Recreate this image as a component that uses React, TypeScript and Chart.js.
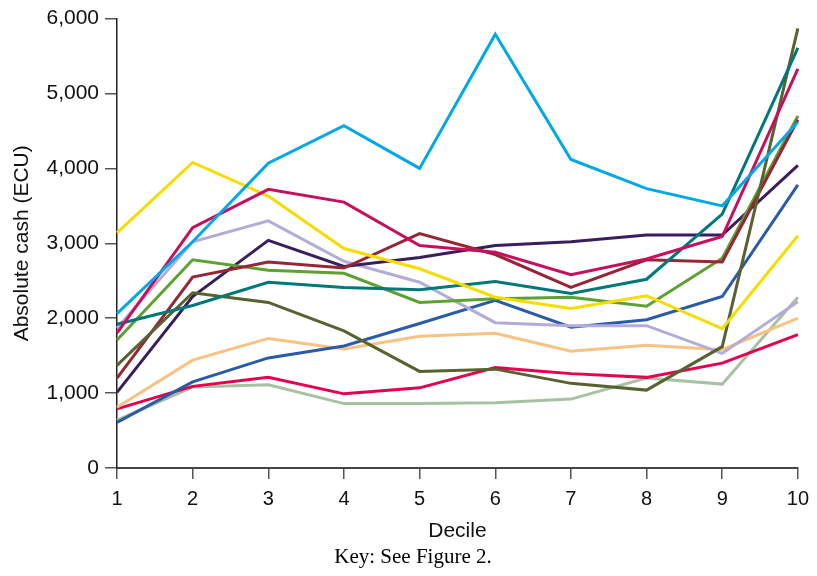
import React, { useEffect, useRef } from "react";
import { Chart, registerables } from "chart.js";

Chart.register(...registerables);

const deciles = ["1", "2", "3", "4", "5", "6", "7", "8", "9", "10"];
const yTickValues = [0, 1000, 2000, 3000, 4000, 5000, 6000];

const cyan = [2060, 3020, 4070, 4570, 4000, 5790, 4120, 3730, 3500, 4620];
const yellow = [3140, 4080, 3630, 2930, 2660, 2280, 2130, 2300, 1860, 3100];
const magenta = [1800, 3210, 3720, 3550, 2970, 2880, 2580, 2790, 3090, 5330];
const lavender = [1870, 3020, 3300, 2760, 2480, 1940, 1900, 1900, 1530, 2220];
const purple = [1010, 2290, 3040, 2690, 2810, 2970, 3020, 3110, 3110, 4040];
const darkRed = [1200, 2550, 2750, 2670, 3130, 2850, 2410, 2780, 2750, 4650];
const green = [1710, 2780, 2640, 2600, 2210, 2260, 2280, 2160, 2800, 4700];
const teal = [1920, 2170, 2480, 2410, 2380, 2490, 2330, 2520, 3390, 5610];
const olive = [1370, 2340, 2210, 1830, 1290, 1320, 1130, 1040, 1620, 5870];
const orange = [810, 1440, 1730, 1590, 1760, 1800, 1560, 1640, 1580, 2000];
const blue = [610, 1150, 1470, 1630, 1930, 2240, 1880, 1980, 2290, 3780];
const redPink = [790, 1090, 1210, 990, 1070, 1340, 1260, 1210, 1400, 1780];
const sage = [640, 1080, 1110, 860, 860, 870, 920, 1200, 1120, 2280];

const seriesList = [
  { name: "cyan", data: cyan, color: "#00A9E6" },
  { name: "magenta", data: magenta, color: "#C6105E" },
  { name: "yellow", data: yellow, color: "#F6DC00" },
  { name: "teal", data: teal, color: "#00787A" },
  { name: "olive", data: olive, color: "#586230" },
  { name: "darkRed", data: darkRed, color: "#962636" },
  { name: "green", data: green, color: "#5DA132" },
  { name: "purple", data: purple, color: "#3A1E5C" },
  { name: "lavender", data: lavender, color: "#B4ACD8" },
  { name: "blue", data: blue, color: "#2B5BA8" },
  { name: "orange", data: orange, color: "#F8C283" },
  { name: "redPink", data: redPink, color: "#E4004F" },
  { name: "sage", data: sage, color: "#A7C2A3" },
];

export default function App() {
  const canvasRef = useRef<HTMLCanvasElement | null>(null);

  useEffect(() => {
    const canvas = canvasRef.current;
    if (!canvas) return;
    const sans = "'Liberation Sans', Arial, sans-serif";
    const chart = new Chart(canvas, {
      type: "line",
      data: {
        labels: deciles,
        datasets: seriesList.map((s) => ({
          label: s.name,
          data: s.data,
          borderColor: s.color,
          backgroundColor: s.color,
          borderWidth: 3,
          pointRadius: 0,
          tension: 0,
          fill: false,
        })),
      },
      options: {
        animation: false,
        responsive: false,
        maintainAspectRatio: false,
        layout: { padding: { left: 24, right: 15, top: 16, bottom: 0 } },
        plugins: {
          legend: { display: false },
          tooltip: { enabled: false },
          subtitle: {
            display: true,
            position: "bottom",
            text: "Key: See Figure 2.",
            color: "#000",
            font: { family: "'Liberation Serif', 'Times New Roman', serif", size: 21, weight: "normal" },
            padding: { top: 0, bottom: 6 },
          },
        },
        scales: {
          x: {
            type: "category",
            offset: false,
            grid: {
              drawOnChartArea: false,
              drawTicks: true,
              tickLength: 11,
              color: "#555",
              lineWidth: 1.5,
            },
            border: { display: true, color: "#444", width: 2 },
            ticks: {
              color: "#111",
              font: { family: sans, size: 20 },
              padding: 8,
              maxRotation: 0,
              autoSkip: false,
            },
            title: {
              display: true,
              text: "Decile",
              color: "#111",
              font: { family: sans, size: 21 },
              padding: { top: 0, bottom: 1 },
            },
            afterFit: (scale: any) => {
              scale.height = 76.8;
            },
          },
          y: {
            type: "linear",
            min: 0,
            max: 6000,
            afterBuildTicks: (scale: any) => {
              scale.ticks = yTickValues.map((v) => ({ value: v }));
            },
            grid: {
              drawOnChartArea: false,
              drawTicks: true,
              tickLength: 12,
              color: "#555",
              lineWidth: 1.5,
            },
            border: { display: true, color: "#222", width: 1.5 },
            ticks: {
              color: "#111",
              font: { family: sans, size: 21 },
              padding: 6,
              callback: (v: any) => Number(v).toLocaleString("en-US"),
            },
            title: {
              display: true,
              text: "Absolute cash (ECU)",
              color: "#111",
              font: { family: sans, size: 21 },
              padding: { top: -14.6, bottom: 0 },
            },
            afterFit: (scale: any) => {
              scale.width = 93;
            },
          },
        },
      },
    });
    return () => {
      chart.destroy();
    };
  }, []);

  return (
    <div style={{ position: "absolute", left: 0, top: 0, width: 817, height: 576, background: "#fff" }}>
      <canvas ref={canvasRef} width={817} height={576} style={{ width: 817, height: 576, display: "block" }} />
    </div>
  );
}
